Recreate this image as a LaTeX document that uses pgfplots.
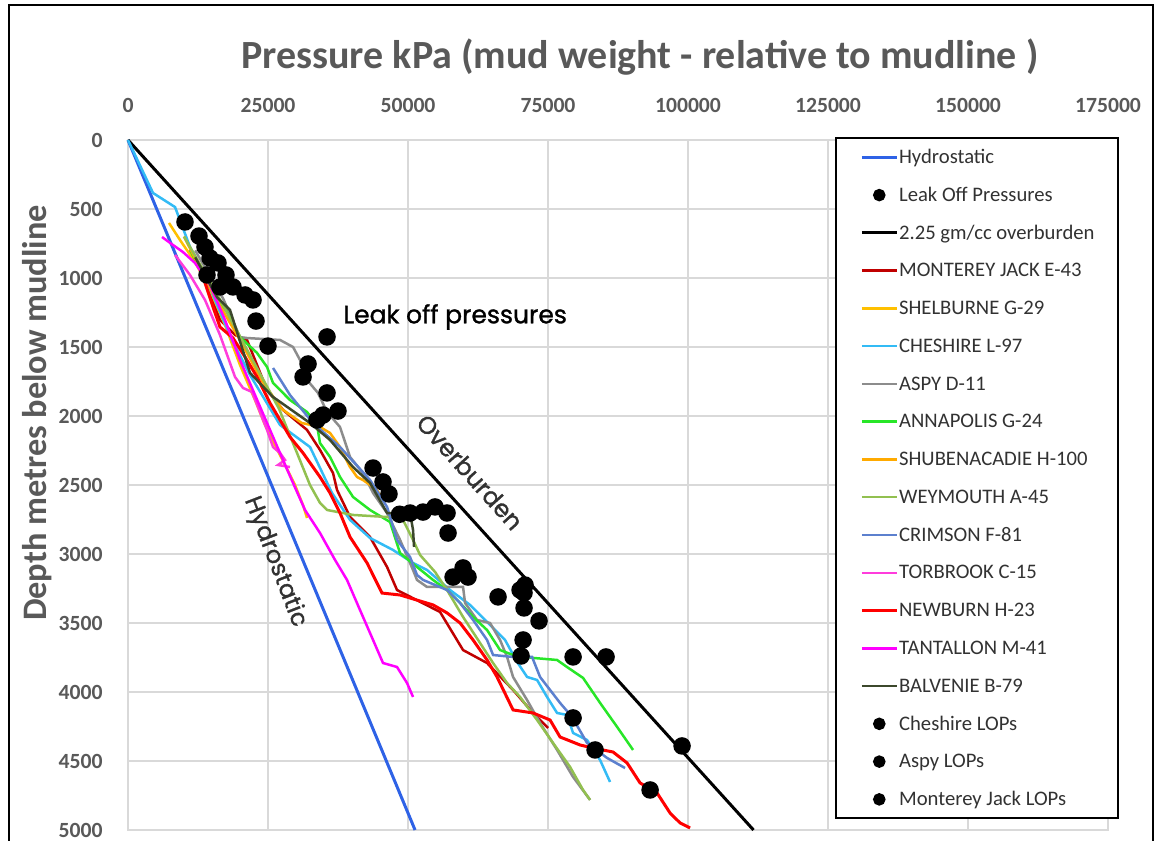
\documentclass[border=0pt]{standalone}
\usepackage{pgfplots}
\pgfplotsset{compat=1.18}
\usepackage{fontspec}
\setmainfont{Carlito}
\newfontfamily\gothic[FakeBold=1.2]{Poppins}
\definecolor{tickgray}{RGB}{89,89,89}
\definecolor{legendgray}{RGB}{50,50,50}
\definecolor{gridgray}{RGB}{217,217,217}
\definecolor{chydro}{RGB}{46,98,230}
\definecolor{cmonterey}{RGB}{192,0,0}
\definecolor{cshelburne}{RGB}{255,192,0}
\definecolor{ccheshire}{RGB}{51,187,245}
\definecolor{caspy}{RGB}{140,140,140}
\definecolor{cannapolis}{RGB}{40,230,40}
\definecolor{cshuben}{RGB}{255,170,0}
\definecolor{cweymouth}{RGB}{146,192,80}
\definecolor{ccrimson}{RGB}{92,128,206}
\definecolor{ctorbrook}{RGB}{255,60,220}
\definecolor{cnewburn}{RGB}{255,0,0}
\definecolor{ctantallon}{RGB}{255,0,255}
\definecolor{cbalvenie}{RGB}{60,72,44}
\begin{document}
\begin{tikzpicture}
\useasboundingbox (0pt,0pt) rectangle (694.2pt,-504.6pt);
\begin{axis}[
  at={(76.8pt,-84pt)}, anchor=north west,
  scale only axis, width=588pt, height=414pt,
  xmin=0, xmax=175000, ymin=0, ymax=5000,
  y dir=reverse,
  xticklabel pos=upper,
  xtick={0,25000,...,175000},
  ytick={0,500,...,5000},
  scaled x ticks=false, scaled y ticks=false,
  /pgf/number format/.cd, fixed, 1000 sep={}, assume math mode=true, /pgfplots/.cd,
  grid=major,
  major grid style={draw=gridgray, line width=0.8pt},
  axis line style={draw=gridgray, line width=0.8pt},
  major tick length=0pt,
  ticklabel style={font=\fontsize{13}{13}\selectfont\bfseries, text=tickgray, inner sep=0pt},
  xticklabel style={anchor=center, yshift=21pt},
  yticklabel style={anchor=east, xshift=-15pt},
  clip=false,
  legend cell align=left,
  legend image code/.code={\draw[mark repeat=2,mark phase=2,#1] plot coordinates {(0pt,0pt) (10.5pt,0pt) (21pt,0pt)};},
  legend style={draw=none, fill=none, at={(axis description cs:0.7224,1.0029)}, anchor=north west,
    inner xsep=14.4pt, inner ysep=5.6pt, row sep=11.06pt, column sep=0.5pt,
    font=\fontsize{12.4}{13}\selectfont\color{legendgray},
    nodes={inner sep=0pt, text height=9.5pt, text depth=2.1pt}},
  every axis plot/.append style={line width=1.5pt},
]
% Hydrostatic
\addplot[chydro, line width=1.8pt] coordinates {(0,0) (51260,5000)};
\addlegendentry{Hydrostatic}
% Leak off pressures
\addplot[only marks, mark=*, mark size=4.5pt, black, legend image post style={mark size=3pt}] coordinates {
(10180,594) (12680,696) (13750,775) (14650,855) (16070,891) (14110,978) (17500,978)
(16430,1065) (18750,1065) (20900,1123) (22330,1159) (22860,1312) (25000,1493)
(35540,1427) (32150,1623) (31260,1717) (35540,1833) (37500,1964) (34830,1993) (33750,2029)
(43760,2377) (45540,2478) (46610,2565) (50370,2703) (52690,2696) (54830,2659) (56970,2703)
(48500,2712) (57150,2848) (58050,3167) (59830,3101) (60720,3167)};
\addlegendentry{Leak Off Pressures}
% Overburden
\addplot[black, line width=1.8pt] coordinates {(0,0) (111700,5000)};
\addlegendentry{2.25 gm/cc overburden}
% Monterey Jack E-43
\addplot[cmonterey] coordinates {
(13750,1014) (16430,1304) (19110,1413) (21250,1449) (24830,1812) (27680,1956) (31970,2101)
(34290,2246) (36610,2413) (37330,2536) (39650,2732) (43220,2877) (46260,3094) (48040,3261)
(55720,3420) (59830,3696) (64120,3790) (68760,3985) (72330,4152) (75010,4261)};
\addlegendentry{MONTEREY JACK E-43}
% Shelburne G-29
\addplot[cshelburne] coordinates {
(7320,601) (9290,725) (11970,884) (14650,1087) (17320,1340) (20000,1630) (22680,1884)
(24470,2065) (26250,2210) (28040,2355) (29820,2500) (31250,2645) (31970,2739)};
\addlegendentry{SHELBURNE G-29}
% Cheshire L-97
\addplot[ccheshire] coordinates {
(0,0) (4470,384) (8400,486) (11070,775) (13220,942) (15540,1159) (18570,1449) (21790,1703)
(24470,1884) (27150,2065) (32510,2225) (36430,2558) (39650,2753) (43220,2884) (47330,2971)
(50900,3065) (53400,3116) (57510,3261) (61080,3369) (64650,3514) (67330,3623) (69480,3782)
(71260,3891) (73050,3913) (74830,4036) (76620,4152) (78400,4166) (79480,4297) (81970,4348)
(84300,4493) (86080,4652)};
\addlegendentry{CHESHIRE L-97}
% Aspy D-11
\addplot[caspy] coordinates {
(12000,800) (17000,1150) (20000,1428) (21250,1435) (27150,1449) (29470,1500) (30720,1594)
(31970,1739) (33930,1833) (35540,1971) (37860,2080) (39650,2297) (41970,2413) (43760,2558)
(46260,2703) (48580,2898) (50900,3116) (51610,3188) (53400,3239) (59830,3239) (60190,3355)
(62330,3478) (64650,3500) (66440,3623) (67690,3746) (68760,3891) (71260,4058) (73580,4224)
(76620,4420) (79480,4616) (82510,4782)};
\addlegendentry{ASPY D-11}
% Annapolis G-24
\addplot[cannapolis] coordinates {
(11070,797) (14110,1036) (16430,1181) (17680,1246) (20000,1428) (23040,1543) (24830,1645)
(25900,1761) (28930,1884) (31970,1971) (33750,2065) (34290,2196) (36080,2297) (37860,2442)
(40190,2587) (43220,2681) (46790,2768) (48580,2993) (51610,3094) (54470,3188) (56970,3261)
(59300,3355) (61620,3456) (64120,3551) (66440,3696) (68760,3732) (72330,3753) (76620,3768)
(78400,3819) (81260,3898) (84300,4079) (87340,4253) (90190,4420)};
\addlegendentry{ANNAPOLIS G-24}
% Shubenacadie H-100
\addplot[cshuben] coordinates {
(10000,700) (15000,1100) (20000,1450) (24000,1750) (27500,1950) (31000,2050) (34290,2080)
(36080,2123) (37860,2225) (39650,2370) (40900,2442) (41970,2464) (44470,2536) (45900,2630)};
\addlegendentry{SHUBENACADIE H-100}
% Weymouth A-45
\addplot[cweymouth] coordinates {
(10000,700) (15000,1050) (19000,1350) (23000,1650) (27000,1950) (30000,2250) (32500,2500)
(34290,2630) (35540,2681) (40190,2717) (46260,2732) (49110,2753) (50900,2898) (52150,3007)
(54830,3130) (56970,3261) (59830,3456) (62870,3645) (65190,3790) (67690,3935) (70010,4036)
(73050,4203) (75900,4369) (78940,4543) (81260,4710) (82510,4782)};
\addlegendentry{WEYMOUTH A-45}
% Crimson F-81
\addplot[ccrimson] coordinates {
(25900,1652) (28930,1848) (33040,2051) (37860,2225) (43220,2464) (46260,2659) (48040,2898)
(50370,3022) (51610,3152) (52690,3188) (56970,3261) (59300,3355) (61620,3478) (64120,3623)
(65190,3732) (68760,3746) (72150,3746) (73580,3891) (77150,4079) (79300,4181) (81970,4369)
(85550,4478) (88760,4551)};
\addlegendentry{CRIMSON F-81}
% Torbrook C-15
\addplot[ctorbrook] coordinates {
(8400,833) (11070,978) (13750,1159) (16430,1413) (19110,1717) (20540,1797) (22150,1826)
(23220,1935) (24830,2101) (25900,2225) (27150,2268) (28040,2319) (26790,2355) (28930,2370)};
\addlegendentry{TORBROOK C-15}
% Newburn H-23
\addplot[cnewburn, line width=1.8pt] coordinates {
(13220,964) (13750,1036) (15180,1210) (16430,1355) (18750,1435) (20900,1572) (23040,1717)
(25360,1906) (27150,2029) (28930,2152) (31260,2268) (34290,2442) (36080,2558) (37860,2703)
(39650,2877) (42690,3065) (45360,3283) (48580,3297) (54470,3369) (56970,3427) (59300,3500)
(61620,3623) (64120,3768) (65900,3891) (68760,4130) (72330,4152) (75370,4203) (77150,4326)
(80730,4384) (83050,4406) (86620,4435) (89120,4514) (91440,4659) (94480,4732) (96800,4877)
(98590,4949) (100370,4985)};
\addlegendentry{NEWBURN H-23}
% Tantallon M-41
\addplot[ctantallon] coordinates {
(6070,703) (8040,761) (9820,812) (11970,891) (14650,1051) (17320,1304) (20000,1594)
(22680,1848) (25360,2101) (27680,2319) (29470,2485) (31610,2681) (34290,2848) (36970,3043)
(39110,3188) (41430,3406) (43760,3623) (45540,3790) (48040,3819) (49830,3935) (50900,4036)};
\addlegendentry{TANTALLON M-41}
% Balvenie B-79
\addplot[cbalvenie] coordinates {
(12000,850) (15890,1138) (18220,1232) (21790,1688) (25900,1862) (32510,2051) (36080,2174)
(40190,2370) (43220,2485) (46260,2703) (50370,2703) (50900,2826) (51080,2949)};
\addlegendentry{BALVENIE B-79}
% Cheshire LOPs
\addplot[only marks, mark=*, mark size=4.5pt, black, legend image post style={mark size=3pt}] coordinates {
(70720,3391) (73400,3485) (70550,3623) (70190,3739) (79480,3746) (85370,3746)};
\addlegendentry{Cheshire LOPs}
% Aspy LOPs
\addplot[only marks, mark=*, mark size=4.5pt, black, legend image post style={mark size=3pt}] coordinates {
(66080,3311) (70010,3261) (70720,3282) (70900,3225)};
\addlegendentry{Aspy LOPs}
% Monterey Jack LOPs
\addplot[only marks, mark=*, mark size=4.5pt, black, legend image post style={mark size=3pt}] coordinates {
(79480,4188) (83410,4420) (93230,4710) (98940,4391)};
\addlegendentry{Monterey Jack LOPs}
% legend box
\draw[black, line width=1pt, fill=white] (axis description cs:0.7224,1.0029) rectangle (axis description cs:1.0102,0.0174);
\end{axis}
\begin{scope}[x=0.6pt,y=-0.6pt]
\draw[black, line width=1.2pt] (9,860) -- (9,5) -- (1153,5) -- (1153,860);
\node[font=\fontsize{24}{25}\selectfont\bfseries, text=tickgray] at (640,57) {Pressure kPa (mud weight - relative to mudline )};
\node[font=\fontsize{20.6}{21}\selectfont\bfseries, text=tickgray, rotate=90] at (37,413) {Depth metres below mudline};
\node[font=\gothic\fontsize{15}{16}\selectfont, text=black, anchor=west, inner sep=0pt] at (343,317) {Leak off pressures};
\node[font=\gothic\fontsize{14.6}{15}\selectfont, text=legendgray, rotate=-48] at (470,472) {Overburden};
\node[font=\gothic\fontsize{14.4}{15}\selectfont, text=legendgray, rotate=-69] at (275,562) {Hydrostatic};
\end{scope}
\end{tikzpicture}
\end{document}
